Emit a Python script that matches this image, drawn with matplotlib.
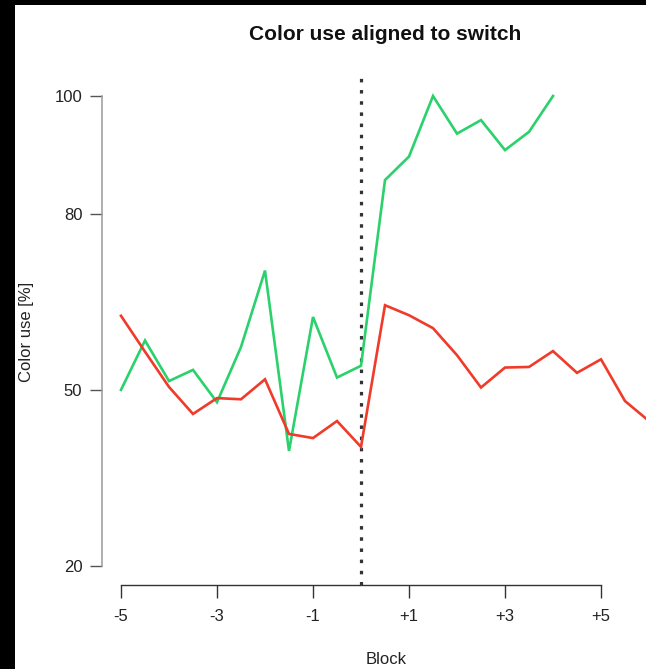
import matplotlib
matplotlib.use("Agg")
import matplotlib.pyplot as plt
from matplotlib.patches import Rectangle

plt.rcParams['font.family'] = ['Liberation Sans', 'DejaVu Sans']

# Blocks relative to the colour switch (half-block steps)
blocks_green = [-5.0, -4.5, -4.0, -3.5, -3.0, -2.5, -2.0, -1.5, -1.0, -0.5,
                0.0, 0.5, 1.0, 1.5, 2.0, 2.5, 3.0, 3.5, 4.0]
green_use = [50.0, 58.4, 51.5, 53.4, 47.9, 57.3, 70.3, 39.6, 62.4, 52.1,
             54.1, 85.7, 89.7, 100.0, 93.6, 95.9, 90.8, 93.9, 100.0]

blocks_red = [-5.0, -4.5, -4.0, -3.5, -3.0, -2.5, -2.0, -1.5, -1.0, -0.5,
              0.0, 0.5, 1.0, 1.5, 2.0, 2.5, 3.0, 3.5, 4.0, 4.5, 5.0, 5.5, 6.0]
red_use = [62.6, 56.5, 50.5, 45.9, 48.6, 48.4, 51.8, 42.5, 41.8, 44.7,
           40.3, 64.4, 62.7, 60.5, 55.9, 50.4, 53.8, 53.9, 56.6, 52.9,
           55.2, 48.1, 44.7]

x_ticks = [-5, -3, -1, 1, 3, 5]
x_tick_labels = ["-5", "-3", "-1", "+1", "+3", "+5"]
y_ticks = [20, 50, 80, 100]

W, H = 646, 669
fig = plt.figure(figsize=(W / 100, H / 100), dpi=100)
fig.patch.set_facecolor("white")

# dark frame along the top and left edges
fig.patches.append(Rectangle((0, 0), 15 / W, 1, transform=fig.transFigure,
                             facecolor="black", edgecolor="none", zorder=10))
fig.patches.append(Rectangle((0, 1 - 5 / H), 1, 5 / H, transform=fig.transFigure,
                             facecolor="black", edgecolor="none", zorder=10))

left_px, right_px = 101.8, 646
top_px, bottom_px = 77.2, 585
ax = fig.add_axes([left_px / W, 1 - bottom_px / H,
                   (right_px - left_px) / W, (bottom_px - top_px) / H])
ax.set_facecolor("none")

x0_px, px_per_unit = 121, 48
ax.set_xlim(-5 - (x0_px - left_px) / px_per_unit, -5 + (right_px - x0_px) / px_per_unit)
ax.set_ylim(16.8, 103.2)

ax.plot(blocks_green, green_use, color="#2bd16c", lw=1.9, solid_joinstyle="miter", zorder=3)
ax.plot(blocks_red, red_use, color="#f03a2a", lw=1.9, solid_joinstyle="miter", zorder=3)

# switch marker
ax.plot([0, 0], [16.8, 103.0], color="#333333", lw=2.3,
        linestyle=(0, (1.1, 2.4)), zorder=2)

for s in ["top", "right"]:
    ax.spines[s].set_visible(False)
ax.spines["left"].set_bounds(20, 100)
ax.spines["bottom"].set_bounds(-5, 5)
ax.spines["left"].set_color("#9a9a9a")
ax.spines["bottom"].set_color("#333333")
ax.spines["left"].set_linewidth(1.1)
ax.spines["bottom"].set_linewidth(1.0)

ax.set_xticks(x_ticks)
ax.set_xticklabels(x_tick_labels)
ax.set_yticks(y_ticks)
ax.tick_params(axis="x", direction="out", length=9, width=1.0, color="#333333",
               labelsize=12, pad=8, labelcolor="#222222")
ax.tick_params(axis="y", direction="out", length=9, width=1.0, color="#555555",
               labelsize=12, pad=5, labelcolor="#222222")

fig.text(385 / W, 1 - 35 / H, "Color use aligned to switch", ha="center", va="center",
         fontsize=15, fontweight="bold", color="#111111")
fig.text(386 / W, 1 - 659 / H, "Block", ha="center", va="center",
         fontsize=12, color="#222222")
fig.text(27 / W, 1 - 332 / H, "Color use [%]", ha="center", va="center",
         rotation=90, fontsize=12, color="#222222")

fig.savefig("out.png", dpi=100, facecolor=fig.get_facecolor())
